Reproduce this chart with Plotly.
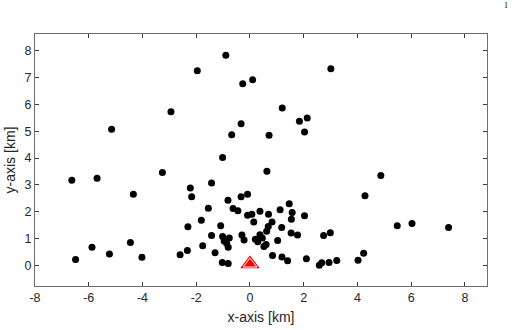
import plotly.graph_objects as go

# Event epicentres relative to the station (km)
x_km = [
    -0.90, -1.96, -0.27, 0.10, 3.01, -2.94, 1.20, 1.84, 2.13, 2.03,
    -5.15, -0.33, -0.68, 0.71, -1.02, 0.63, 4.87, -3.26, -5.69, -6.63,
    -4.34, -2.22, -2.17, -1.43, -0.33, -0.09, -0.82, -1.55, -0.63, -0.45,
    -0.09, 0.07, 0.14, 0.37, 4.28, 1.46, 1.12, 1.57, 1.54, 2.03,
    0.69, 0.82, 0.68, 1.18, 0.62, 0.37, 1.53, 1.77, 0.20, 0.29,
    0.46, 1.03, 0.60, 0.52, 2.74, 2.99, 5.48, 6.03, 7.39,
    -1.81, -1.09, -2.31, -1.43, -1.02, -0.77, -0.96, -0.87, -0.81, -0.30,
    -0.22, -1.76, -1.30, -2.33, -2.60, -4.45, -5.88, -5.23, -4.02, -6.49,
    -1.03, -0.81,
    0.84, 1.19, 1.40, 2.10, 2.58, 2.67, 2.94, 3.23, 4.02, 4.23,
]
y_km = [
    7.84, 7.26, 6.77, 6.92, 7.33, 5.73, 5.87, 5.38, 5.50, 4.97,
    5.08, 5.28, 4.87, 4.85, 4.02, 3.51, 3.35, 3.46, 3.25, 3.17,
    2.65, 2.89, 2.56, 3.07, 2.56, 2.65, 2.43, 2.13, 2.12, 2.04,
    1.87, 1.91, 1.62, 2.02, 2.60, 2.30, 2.07, 1.97, 1.72, 1.85,
    1.91, 1.62, 1.45, 1.41, 1.27, 1.14, 1.21, 1.13, 0.97, 0.88,
    1.02, 0.93, 0.78, 0.70, 1.11, 1.22, 1.48, 1.56, 1.41,
    1.68, 1.48, 1.44, 1.11, 1.08, 1.02, 0.91, 0.82, 0.68, 1.13,
    0.95, 0.73, 0.47, 0.55, 0.40, 0.85, 0.68, 0.42, 0.30, 0.22,
    0.11, 0.07,
    0.37, 0.31, 0.17, 0.25, 0.00, 0.10, 0.11, 0.18, 0.19, 0.45,
]

station_x = [0.0]
station_y = [0.05]

x_ticks = [-8, -6, -4, -2, 0, 2, 4, 6, 8]
y_ticks = [0, 1, 2, 3, 4, 5, 6, 7, 8]
x_range = [-8, 8.82]
y_range = [-0.77, 8.63]

FONT = "Liberation Sans, Arial, sans-serif"

fig = go.Figure()
fig.add_trace(go.Scatter(
    x=x_km, y=y_km, mode="markers",
    marker=dict(size=7, color="black", line=dict(width=0)),
    showlegend=False, hoverinfo="skip"))
fig.add_trace(go.Scatter(
    x=station_x, y=station_y, mode="markers",
    marker=dict(symbol="triangle-up", size=17, color="#ff0000", line=dict(width=0)),
    showlegend=False, hoverinfo="skip"))
fig.add_trace(go.Scatter(
    x=station_x, y=station_y, mode="markers",
    marker=dict(symbol="triangle-up", size=12, color="#ff0000",
                line=dict(width=1, color="white")),
    showlegend=False, hoverinfo="skip"))

axis_common = dict(
    showgrid=False, zeroline=False, showline=True, linecolor="#6e6e6e", linewidth=1,
    mirror="ticks", ticks="inside", ticklen=4, tickcolor="#3a3a3a", tickwidth=1,
    automargin=False,
    tickfont=dict(family=FONT, size=12.5, color="#262626"),
)

fig.update_layout(
    width=512, height=330,
    margin=dict(l=35, r=25, t=34, b=44),
    plot_bgcolor="white", paper_bgcolor="white",
    xaxis=dict(range=x_range, tickvals=x_ticks, ticktext=[str(v) for v in x_ticks],
               title=dict(text="x-axis [km]", standoff=8,
                          font=dict(family=FONT, size=14, color="#262626")),
               **axis_common),
    yaxis=dict(range=y_range, tickvals=y_ticks, ticktext=[str(v) for v in y_ticks],
               title=dict(text="y-axis [km]", standoff=5,
                          font=dict(family=FONT, size=14, color="#262626")),
               **axis_common),
    annotations=[dict(text="1", xref="paper", yref="paper", x=1.042, y=1.137,
                      xanchor="center", yanchor="top", showarrow=False,
                      font=dict(family="Liberation Serif, Times New Roman, serif", size=8, color="black"))],
)

fig.write_html("out.html", config={"displayModeBar": False},
               post_script="document.body.style.margin='0px';document.body.style.overflow='hidden';")
